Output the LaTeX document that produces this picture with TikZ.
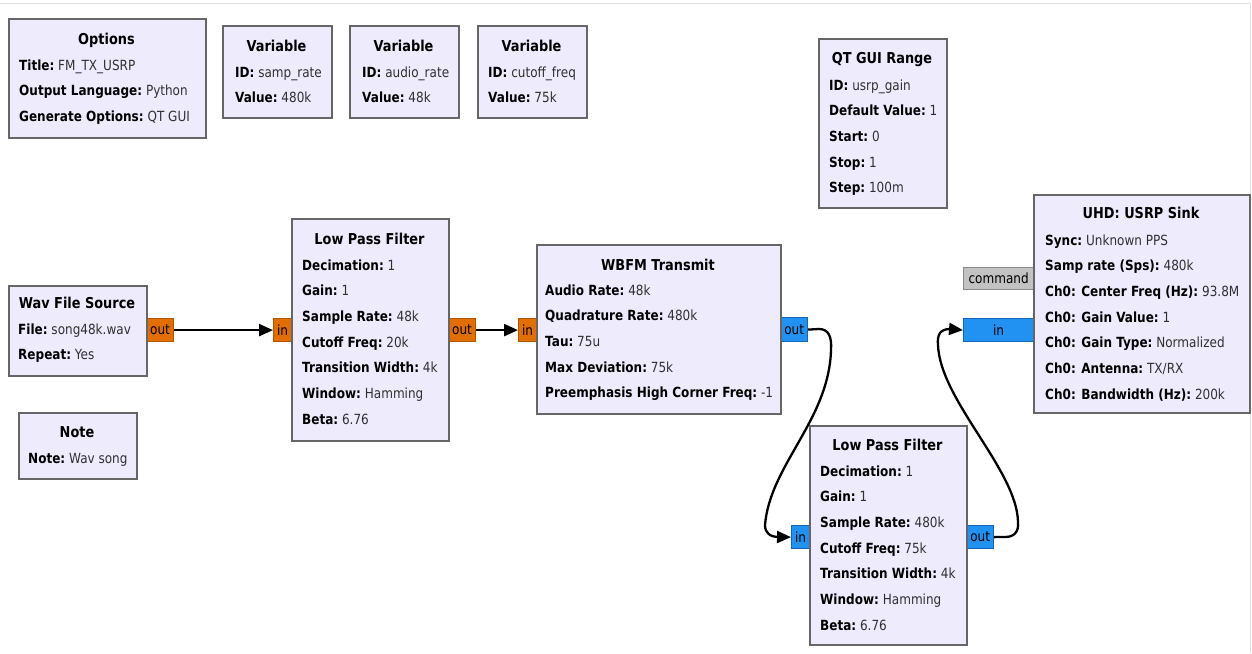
\documentclass[tikz,border=0pt]{standalone}
\usepackage{fontspec}
\setmainfont{DejaVu Sans}[FakeStretch=0.86]
\usetikzlibrary{arrows.meta}
\definecolor{boxfill}{HTML}{EEEBFD}
\definecolor{boxline}{HTML}{666666}
\definecolor{portorange}{HTML}{E26E00}
\definecolor{portorangeline}{HTML}{B25600}
\definecolor{portblue}{HTML}{2191F2}
\definecolor{portblueline}{HTML}{1565B8}
\definecolor{portgray}{HTML}{C2C2C2}
\definecolor{portgrayline}{HTML}{8A8A8A}
\definecolor{valtext}{HTML}{303030}
\tikzset{
  blockbox/.style={draw=boxline, fill=boxfill, line width=2.4pt, inner sep=0pt, anchor=north west},
  titletext/.style={font=\fontsize{15}{18}\selectfont\bfseries, anchor=base, inner sep=0pt},
  bodytext/.style={font=\fontsize{14}{17}\selectfont, anchor=base west, inner sep=0pt},
  portbox/.style={inner sep=0pt, anchor=north west, line width=1.2pt, font=\fontsize{14}{17}\selectfont},
  oport/.style={portbox, draw=portorangeline, fill=portorange},
  bport/.style={portbox, draw=portblueline, fill=portblue},
  gport/.style={portbox, draw=portgrayline, fill=portgray},
  wire/.style={line width=2.3pt, black, -{Triangle[length=14pt,width=12pt]}},
}
\newcommand\kv[2]{\hbox{\textbf{#1:}\ {\color{valtext}#2}}}
\newcommand\kvlines[1]{\vtop{\baselineskip=25.7pt\lineskip=0pt\lineskiplimit=-1000pt #1}}
% name, x1, y1, x2, y2, title, title baseline, body x, body baseline
\newcommand\blk[9]{%
  \node[blockbox, minimum width={(#4-#2)*1pt}, minimum height={(#5-#3)*1pt}] (#1) at (#2,#3) {};
  \node[titletext] (#1-title) at ({(#2+#4)/2},#7) {#6};
  \node[bodytext] (#1-body) at (#8,#9) {\kvlines{\blkbody}};
}
% name, style, x1, y1, x2, y2, label
\newcommand\port[7]{%
  \node[#2, minimum width={(#5-#3)*1pt}, minimum height={(#6-#4)*1pt}] (#1) at (#3,#4) {#7};
}
\begin{document}
\begin{tikzpicture}[x=1pt,y=-1pt]
\path[use as bounding box, fill=white] (0,0) rectangle (1252,653);
\draw[draw=black!12, line width=1pt] (0,3) -- (1250,3) -- (1250,653);

% ports
\port{wav-out}{oport}{146}{318}{173}{341}{out}
\port{lpf1-in}{oport}{273}{318}{291}{341}{in}
\port{lpf1-out}{oport}{448}{318}{475}{341}{out}
\port{wbfm-in}{oport}{518}{318}{536}{341}{in}
\port{wbfm-out}{bport}{780}{317}{807}{341}{out}
\port{lpf2-in}{bport}{791}{525}{809}{548}{in}
\port{lpf2-out}{bport}{966}{525}{993}{548}{out}
\port{uhd-cmd}{gport}{963}{267}{1033}{289}{command}
\port{uhd-in}{bport}{963}{318}{1033}{341}{in}

% blocks
\def\blkbody{\kv{Title}{FM\_TX\_USRP}\kv{Output Language}{Python}\kv{Generate Options}{QT GUI}}
\blk{options}{8}{18}{205}{137}{Options}{44}{19}{70}
\def\blkbody{\kv{ID}{samp\_rate}\kv{Value}{480k}}
\blk{var1}{222}{25}{331}{117}{Variable}{51}{235}{77}
\def\blkbody{\kv{ID}{audio\_rate}\kv{Value}{48k}}
\blk{var2}{349}{25}{458}{117}{Variable}{51}{362}{77}
\def\blkbody{\kv{ID}{cutoff\_freq}\kv{Value}{75k}}
\blk{var3}{477}{25}{586}{117}{Variable}{51}{488}{77}
\def\blkbody{\kv{ID}{usrp\_gain}\kv{Default Value}{1}\kv{Start}{0}\kv{Stop}{1}\kv{Step}{100m}}
\blk{qtrange}{818}{38}{946}{207}{QT GUI Range}{63}{829}{90}
\def\blkbody{\kv{Sync}{Unknown PPS}\kv{Samp rate (Sps)}{480k}\kv{Ch0: Center Freq (Hz)}{93.8M}\kv{Ch0: Gain Value}{1}\kv{Ch0: Gain Type}{Normalized}\kv{Ch0: Antenna}{TX/RX}\kv{Ch0: Bandwidth (Hz)}{200k}}
\blk{uhd}{1033}{194}{1249}{412}{UHD: USRP Sink}{218}{1045}{245}
\def\blkbody{\kv{File}{song48k.wav}\kv{Repeat}{Yes}}
\blk{wav}{8}{285}{146}{375}{Wav File Source}{308}{18}{334}
\def\blkbody{\kv{Note}{Wav song}}
\blk{note}{18}{412}{136}{478}{Note}{437}{28}{463}
\def\blkbody{\kv{Decimation}{1}\kv{Gain}{1}\kv{Sample Rate}{48k}\kv{Cutoff Freq}{20k}\kv{Transition Width}{4k}\kv{Window}{Hamming}\kv{Beta}{6.76}}
\blk{lpf1}{291}{218}{448}{440}{Low Pass Filter}{244}{302}{270}
\def\blkbody{\kv{Audio Rate}{48k}\kv{Quadrature Rate}{480k}\kv{Tau}{75u}\kv{Max Deviation}{75k}\kv{Preemphasis High Corner Freq}{-1}}
\blk{wbfm}{536}{244}{780}{413}{WBFM Transmit}{270}{545}{295}
\def\blkbody{\kv{Decimation}{1}\kv{Gain}{1}\kv{Sample Rate}{480k}\kv{Cutoff Freq}{75k}\kv{Transition Width}{4k}\kv{Window}{Hamming}\kv{Beta}{6.76}}
\blk{lpf2}{809}{425}{966}{644}{Low Pass Filter}{450}{820}{476}

% connections
\draw[wire] (wav-out.east) -- (lpf1-in.west);
\draw[wire] (lpf1-out.east) -- (wbfm-in.west);
\draw[wire] (wbfm-out.east) -- (819,329)
  .. controls (828,329) and (832,336) .. (831,350)
  .. controls (829,420) and (770,465) .. (765,525)
  .. controls (765,533) and (770,537) .. (779,537) -- (lpf2-in.west);
\draw[wire] (lpf2-out.east) -- (1005,537)
  .. controls (1014,537) and (1019,532) .. (1018,522)
  .. controls (1017,470) and (940,400) .. (938,345)
  .. controls (937,335) and (940,329) .. (950,329) -- (uhd-in.west);
\end{tikzpicture}
\end{document}
